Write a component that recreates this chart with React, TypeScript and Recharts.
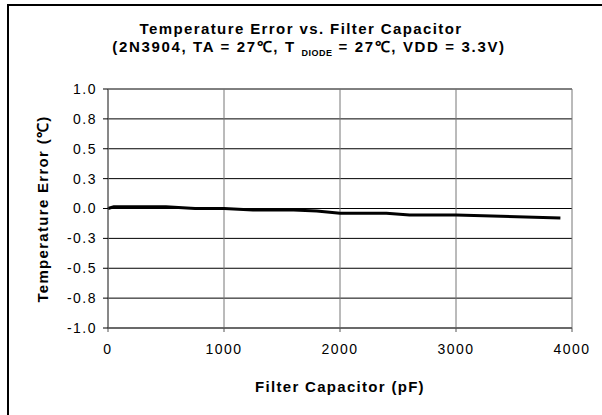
import React from 'react';
import { LineChart, Line, XAxis, YAxis, CartesianGrid } from 'recharts';

// filter capacitor (pF) and temperature error (°C)
const capacitance = [0, 50, 500, 750, 1000, 1250, 1600, 1800, 2000, 2400, 2600, 3000, 3900];
const tempError = [0, 0.015, 0.015, 0, 0, -0.013, -0.013, -0.02, -0.04, -0.04, -0.055, -0.055, -0.08];

const xTicks = [0, 1000, 2000, 3000, 4000];
const yTicks = [-1, -0.75, -0.5, -0.25, 0, 0.25, 0.5, 0.75, 1];
const yTickLabels = ['-1.0', '-0.8', '-0.5', '-0.3', '0.0', '0.3', '0.5', '0.8', '1.0'];

const data = capacitance.map((c, i) => ({ c, err: tempError[i] }));

const FONT = '"Liberation Sans", Arial, sans-serif';
const tickStyle = { fill: '#000', fontSize: 14, fontFamily: FONT, letterSpacing: 1.5 };

export default function App() {
  return (
    <div style={{ position: 'absolute', left: 0, top: 0, width: 602, height: 415, background: '#fff', fontFamily: FONT, overflow: 'hidden' }}>
      <div style={{ position: 'absolute', left: 0, width: 602, top: 20, textAlign: 'center', fontWeight: 'bold', fontSize: 15, lineHeight: '18px', color: '#000' }}>
        <div style={{ letterSpacing: 1.4 }}>Temperature Error vs. Filter Capacitor</div>
        <div style={{ letterSpacing: 1.65, paddingLeft: 16 }}>
          (2N3904, TA = 27℃, T <span style={{ fontSize: 9, position: 'relative', top: 4, letterSpacing: 0.5 }}>DIODE</span> = 27℃, VDD = 3.3V)
        </div>
      </div>
      <div style={{ position: 'absolute', left: 42, top: 209, transform: 'translate(-50%, -50%) rotate(-90deg)', whiteSpace: 'nowrap', fontWeight: 'bold', fontSize: 15, letterSpacing: 1.3 }}>
        Temperature Error (℃)
      </div>
      <div style={{ position: 'absolute', left: 340, top: 386, transform: 'translate(-50%, -50%)', whiteSpace: 'nowrap', fontWeight: 'bold', fontSize: 15, letterSpacing: 1.3 }}>
        Filter Capacitor (pF)
      </div>
      <div style={{ position: 'absolute', left: 0, top: 0 }}>
        <LineChart width={602} height={415} data={data} margin={{ top: 89, right: 30, bottom: 57, left: 48 }}>
          <CartesianGrid vertical={false} stroke="#000" strokeWidth={1} />
          <CartesianGrid horizontal={false} stroke="#777" strokeWidth={1} />
          <XAxis
            dataKey="c"
            type="number"
            domain={[0, 4000]}
            ticks={xTicks}
            height={30}
            tickSize={4}
            axisLine={{ stroke: '#555' }}
            tickLine={{ stroke: '#555' }}
            tick={tickStyle}
            tickMargin={12}
          />
          <YAxis
            type="number"
            domain={[-1, 1]}
            ticks={yTicks}
            width={60}
            tickSize={5}
            axisLine={{ stroke: '#555' }}
            tickLine={{ stroke: '#000' }}
            tick={tickStyle}
            tickFormatter={(v: number) => yTickLabels[yTicks.indexOf(v)] ?? String(v)}
            tickMargin={6}
          />
          <Line dataKey="err" type="linear" stroke="#000" strokeWidth={3} dot={false} isAnimationActive={false} />
        </LineChart>
      </div>
      <div style={{ position: 'absolute', left: 7, top: 4, width: 600, height: 420, borderTop: '2px solid #000', borderLeft: '2px solid #000', pointerEvents: 'none' }} />
    </div>
  );
}
